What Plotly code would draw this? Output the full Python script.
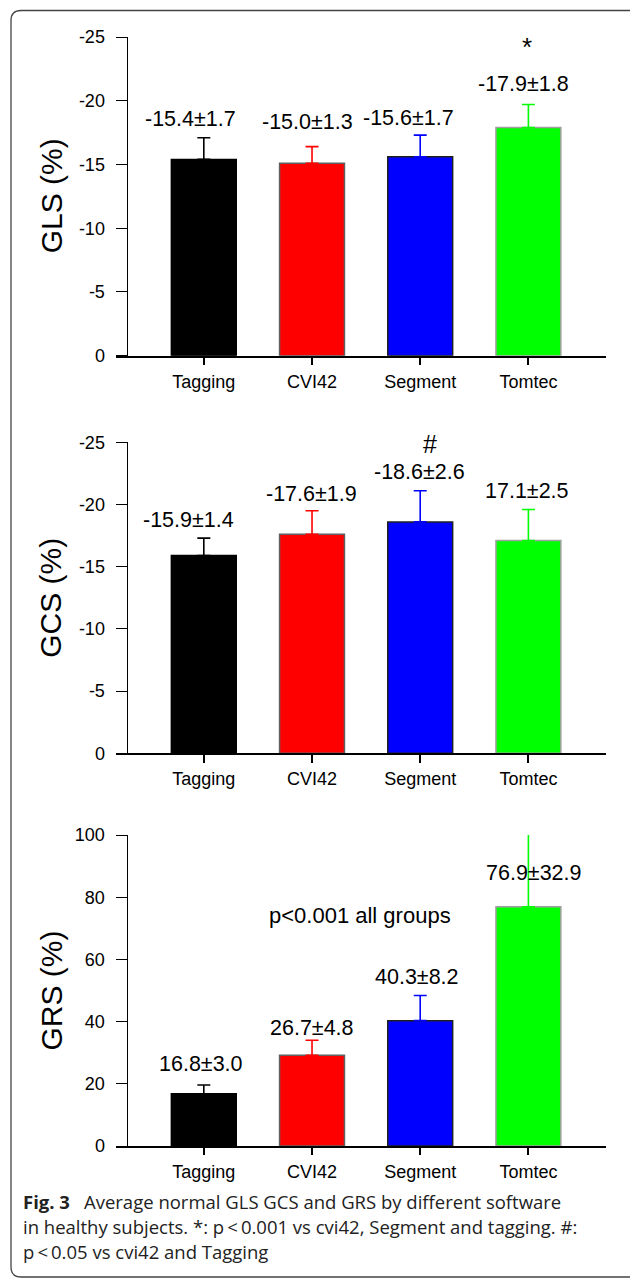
import plotly.graph_objects as go

W, H = 630, 1278

categories = ["Tagging", "CVI42", "Segment", "Tomtec"]
bar_colors = ["#000000", "#ff0000", "#0000ff", "#00ff00"]
edge_colors = ["#000000", "#606060", "#202020", "#a0a0a0"]

# Panel 1: GLS
gls_mean = [-15.4, -15.1, -15.6, -17.9]
gls_sd = [1.7, 1.3, 1.7, 1.8]
gls_labels = ["-15.4±1.7", "-15.0±1.3", "-15.6±1.7", "-17.9±1.8"]

# Panel 2: GCS
gcs_mean = [-15.9, -17.6, -18.6, -17.1]
gcs_sd = [1.4, 1.9, 2.5, 2.5]
gcs_labels = ["-15.9±1.4", "-17.6±1.9", "-18.6±2.6", "17.1±2.5"]

# Panel 3: GRS
grs_mean = [16.8, 29.2, 40.3, 76.9]
grs_sd = [2.8, 4.8, 8.1, 32.9]
grs_labels = ["16.8±3.0", "26.7±4.8", "40.3±8.2", "76.9±32.9"]

neg_ticks = [0, -5, -10, -15, -20, -25]
pos_ticks = [0, 20, 40, 60, 80, 100]

FONT = "Liberation Sans, Arial, sans-serif"


def px(x):
    return x / W


def py(y):
    return 1 - y / H


fig = go.Figure()

panels = [
    dict(mean=gls_mean, sd=gls_sd, labels=gls_labels, title="GLS (%)",
         top=37.0, bottom=355.7, rng=[0, -25], ticks=neg_ticks, neg=True,
         dx=[-13, -4.5, -11.3, -5], dy=[19, 25, 17.4, 20.4],
         onbar=[False, False, False, False]),
    dict(mean=gcs_mean, sd=gcs_sd, labels=gcs_labels, title="GCS (%)",
         top=442.3, bottom=753.3, rng=[0, -25], ticks=neg_ticks, neg=True,
         dx=[-15, -1, -0.5, -1], dy=[17.7, 17, 19, 18.3],
         onbar=[False, False, False, False]),
    dict(mean=grs_mean, sd=grs_sd, labels=grs_labels, title="GRS (%)",
         top=835.0, bottom=1146.0, rng=[0, 100], ticks=pos_ticks, neg=False,
         dx=[-2.5, -0.5, -3.3, 6], dy=[20.7, 12, 18, 33.4],
         onbar=[False, False, False, True]),
]

x_left, x_right = 115.7, 606.3
x_range = [-0.8145, 3.72]
yaxis_x = 127.0

annotations = []
for p_i, p in enumerate(panels):
    n = p_i + 1
    xa = "x" if n == 1 else f"x{n}"
    ya = "y" if n == 1 else f"y{n}"
    for i, cat in enumerate(categories):
        m = p["mean"][i]
        s = p["sd"][i]
        if p["neg"]:
            err = dict(type="data", symmetric=False, array=[0], arrayminus=[s])
        else:
            err = dict(type="data", symmetric=False, array=[s], arrayminus=[0])
        err.update(color=bar_colors[i], thickness=1.6, width=6.5, visible=True)
        fig.add_trace(go.Bar(
            x=[i], y=[m], width=0.6, xaxis=xa, yaxis=ya,
            marker=dict(color=bar_colors[i], line=dict(color=edge_colors[i], width=1.5)),
            error_y=err, showlegend=False, hoverinfo="skip",
        ))
        base = m if p["onbar"][i] else (m - s if p["neg"] else m + s)
        annotations.append(dict(
            x=i, y=base, xref=xa, yref=ya, text=p["labels"][i], showarrow=False,
            xshift=p["dx"][i], yshift=p["dy"][i], xanchor="center", yanchor="middle",
            font=dict(family=FONT, size=21.5, color="#000000"),
        ))
    dom = [py(p["bottom"]), py(p["top"])]
    fig.layout[f"xaxis{'' if n == 1 else n}"] = dict(
        domain=[px(x_left), px(x_right)], range=x_range, anchor=ya,
        tickmode="array", tickvals=list(range(len(categories))), ticktext=categories,
        ticks="outside", ticklen=7.5, tickwidth=1.5, tickcolor="#000000",
        showline=True, linewidth=1.5, linecolor="#000000",
        showgrid=False, zeroline=False, fixedrange=True, automargin=False,
        tickfont=dict(family=FONT, size=18, color="#000000"),
        ticklabelstandoff=1,
    )
    fig.layout[f"yaxis{'' if n == 1 else n}"] = dict(
        domain=dom, range=p["rng"], anchor="free", position=px(yaxis_x),
        tickmode="array", tickvals=p["ticks"], ticktext=[str(t) for t in p["ticks"]],
        ticks="outside", ticklen=11.3, tickwidth=1.4, tickcolor="#000000",
        showline=True, linewidth=1.4, linecolor="#000000",
        showgrid=False, zeroline=False, fixedrange=True, automargin=False,
        tickfont=dict(family=FONT, size=18, color="#000000"),
        ticklabelstandoff=7,
    )
    annotations.append(dict(
        x=px(51), y=(dom[0] + dom[1]) / 2, xref="paper", yref="paper",
        text=p["title"], textangle=-90, showarrow=False,
        xanchor="center", yanchor="middle",
        font=dict(family=FONT, size=30, color="#000000"),
    ))

# significance markers and notes
annotations.append(dict(x=2.99, y=-24.2, xref="x", yref="y", text="*", showarrow=False,
                        font=dict(family=FONT, size=26, color="#000000")))
annotations.append(dict(x=2.09, y=-24.9, xref="x2", yref="y2", text="#", showarrow=False,
                        font=dict(family=FONT, size=25, color="#000000")))
annotations.append(dict(x=1.44, y=74.1, xref="x3", yref="y3", text="p<0.001 all groups",
                        showarrow=False, font=dict(family=FONT, size=22, color="#000000")))

# caption
CAP = "Open Sans, Noto Sans, sans-serif"
cap_lines = [
    "<b>Fig. 3</b>\u2002 Average normal GLS GCS and GRS by different software",
    "in healthy subjects. *: p\u2009<\u20090.001 vs cvi42, Segment and tagging. #:",
    "p\u2009<\u20090.05 vs cvi42 and Tagging",
]
cap_y = [1201, 1226, 1251]
for t, yy in zip(cap_lines, cap_y):
    annotations.append(dict(x=px(21), y=py(yy), xref="paper", yref="paper", text=t,
                            showarrow=False, xanchor="left", yanchor="middle",
                            font=dict(family=CAP, size=18.5, color="#222222")))

frame = (f"M {px(660)},{py(10.5)} L {px(21)},{py(10.5)} "
         f"Q {px(11)},{py(10.5)} {px(11)},{py(20.5)} L {px(11)},{py(1267)} "
         f"Q {px(11)},{py(1277)} {px(21)},{py(1277)} L {px(660)},{py(1277)}")

fig.update_layout(
    template="none",
    width=W, height=H, margin=dict(l=0, r=0, t=0, b=0, pad=0, autoexpand=False),
    paper_bgcolor="#ffffff", plot_bgcolor="#ffffff",
    barmode="overlay", showlegend=False,
    annotations=annotations,
    shapes=[dict(type="path", path=frame, xref="paper", yref="paper",
                 line=dict(color="#444444", width=1.3))],
)

fig.write_html("out.html", config={"displayModeBar": False},
               post_script="document.body.style.margin='0';document.body.style.overflow='hidden';")
